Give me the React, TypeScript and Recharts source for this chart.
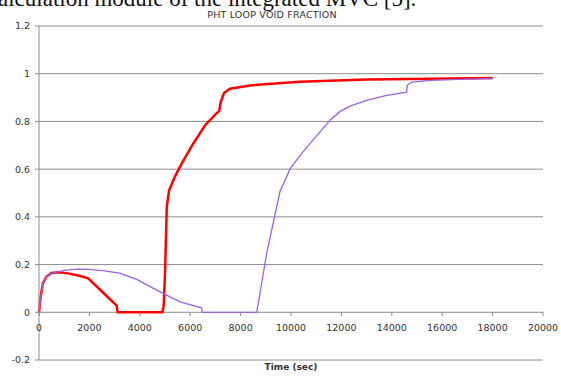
import { LineChart, Line, XAxis, YAxis, CartesianGrid } from "recharts";

// t in seconds, v = void fraction
const redTime = [0, 60, 150, 300, 500, 800, 1200, 1600, 1950, 2550, 3080, 3120, 4900, 4950, 5000, 5070, 5160, 5400, 5660, 6120, 6590, 7050, 7150, 7210, 7340, 7580, 8370, 10360, 13000, 15500, 18000];
const redVoid = [0, 0.06, 0.12, 0.15, 0.165, 0.168, 0.162, 0.153, 0.142, 0.082, 0.028, 0, 0, 0.03, 0.16, 0.44, 0.51, 0.57, 0.623, 0.707, 0.784, 0.835, 0.843, 0.88, 0.919, 0.937, 0.951, 0.966, 0.976, 0.979, 0.982];

const purpleTime = [0, 60, 150, 300, 500, 1000, 1500, 2000, 2600, 3200, 3900, 4540, 5100, 5600, 6450, 6480, 8640, 9035, 9560, 9960, 10360, 10750, 11150, 11550, 11950, 12340, 13000, 13800, 14590, 14610, 14790, 15520, 17000, 18000];
const purpleVoid = [0, 0.06, 0.12, 0.15, 0.163, 0.176, 0.181, 0.18, 0.174, 0.164, 0.137, 0.1, 0.07, 0.044, 0.019, 0, 0, 0.247, 0.505, 0.6, 0.658, 0.707, 0.756, 0.805, 0.842, 0.864, 0.888, 0.909, 0.923, 0.951, 0.965, 0.972, 0.977, 0.98];

const xTicks = [0, 2000, 4000, 6000, 8000, 10000, 12000, 14000, 16000, 18000, 20000];
const yTicks = [-0.2, 0, 0.2, 0.4, 0.6, 0.8, 1, 1.2];

const redData = redTime.map((t, i) => ({ t, v: redVoid[i] }));
const purpleData = purpleTime.map((t, i) => ({ t, v: purpleVoid[i] }));

const FONT = "'DejaVu Sans', Verdana, sans-serif";
const GRID = "#8c8c8c";

// x labels sit under the zero line, not under the plot bottom
const XTick = ({ x, y, payload }: any) => (
  <g>
    <line x1={x} x2={x} y1={y - 48} y2={y - 44} stroke={GRID} />
    <text x={x} y={y - 29} textAnchor="middle" fontSize={9.5} fontFamily={FONT} fill="#333">{payload.value}</text>
  </g>
);

export default function App() {
  return (
    <div style={{ position: "absolute", left: 0, top: 0, width: 561, height: 376, background: "#fff", overflow: "hidden" }}>
      <div style={{ position: "absolute", left: -2, top: -9.5, fontFamily: "'Liberation Serif', serif", fontSize: 23, lineHeight: "16px", whiteSpace: "nowrap", color: "#111" }}>
        alculation module of the integrated MVC [5].
      </div>
      <div style={{ position: "absolute", left: 0, width: 544, top: 9, textAlign: "center", fontFamily: FONT, fontSize: 9.5, color: "#333", letterSpacing: 0.2 }}>
        PHT LOOP VOID FRACTION
      </div>
      <div style={{ position: "absolute", left: 39, width: 504, top: 362, textAlign: "center", fontFamily: FONT, fontSize: 9, fontWeight: "bold", color: "#333" }}>
        Time (sec)
      </div>
      <LineChart width={561} height={376} margin={{ top: 26, right: 18, bottom: 0, left: 0 }}>
        <CartesianGrid vertical={false} stroke={GRID} />
        <XAxis type="number" dataKey="t" domain={[0, 20000]} ticks={xTicks} axisLine={false} tickLine={false} tickSize={0} tickMargin={0} height={16} tick={<XTick />} interval={0} />
        <YAxis type="number" domain={[-0.2, 1.2]} ticks={yTicks} width={39} axisLine={{ stroke: GRID }} tickLine={{ stroke: GRID }} tickSize={4} tickMargin={5} tick={{ fontSize: 9.5, fontFamily: FONT, fill: "#333" }} interval={0} />
        <Line data={redData} dataKey="v" type="linear" stroke="#ff0000" strokeWidth={2.5} dot={false} isAnimationActive={false} />
        <Line data={purpleData} dataKey="v" type="linear" stroke="#9a62e0" strokeWidth={1.3} dot={false} isAnimationActive={false} />
      </LineChart>
    </div>
  );
}
